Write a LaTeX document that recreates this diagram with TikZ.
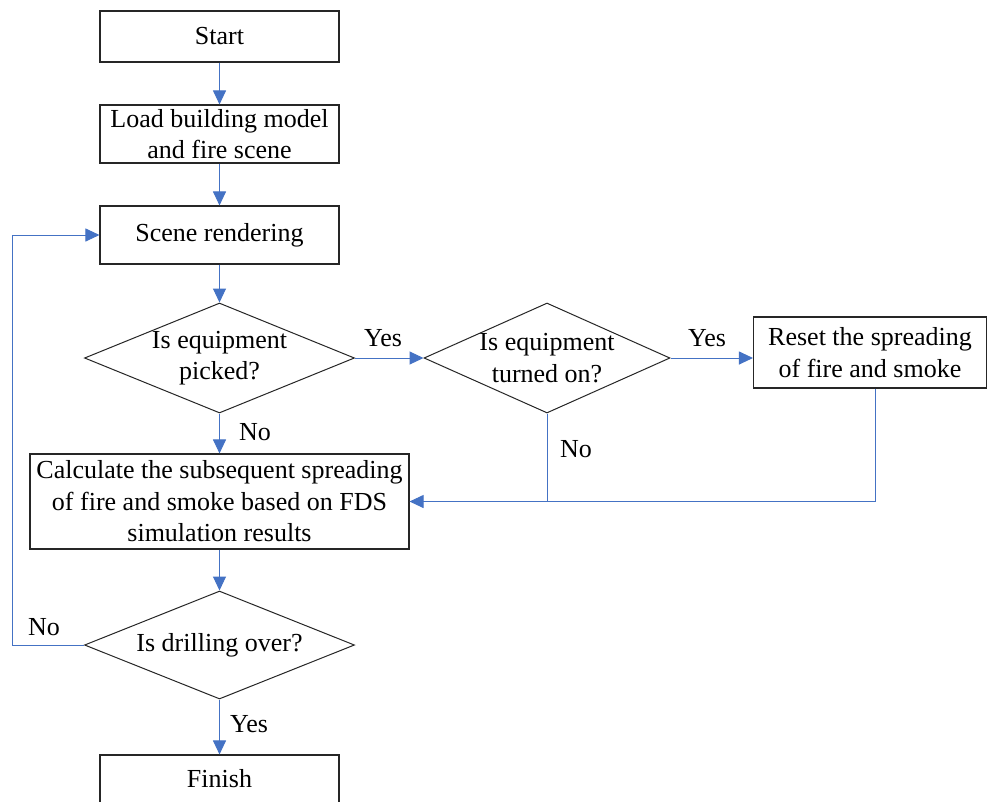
\documentclass[tikz,border=0pt]{standalone}
\usepackage{fontspec}
\setmainfont{Liberation Serif}
\usetikzlibrary{shapes.geometric,arrows.meta,calc}
\definecolor{flowblue}{HTML}{4472C4}
\tikzset{
  box/.style={draw=black!85, line width=1.1pt, rectangle, inner sep=0pt, align=center},
  dia/.style={draw=black!85, line width=1pt, diamond, inner sep=0pt, aspect=2},
  txt/.style={align=center, inner sep=0pt, font=\fontsize{26}{31.5}\selectfont},
  lbl/.style={inner sep=0pt, font=\fontsize{26}{31.5}\selectfont},
  conn/.style={draw=flowblue, line width=1pt},
  arr/.style={conn, -{Triangle[length=14pt,width=13pt]}},
}
\begin{document}
\begin{tikzpicture}[x=1pt,y=-1pt]
\useasboundingbox (0,0) rectangle (987,801);
\fill[white] (0,0) rectangle (987,801);
% boxes
\node[box, minimum width=239pt, minimum height=51pt, txt] (start) at (219.5,36.5) {Start};
\node[box, minimum width=239pt, minimum height=58pt, txt] (load) at (219.5,134) {Load building model\\and fire scene};
\node[box, minimum width=239pt, minimum height=58pt, txt] (scene) at (219.5,235) {Scene rendering};
\node[dia, minimum width=270pt, minimum height=110pt] (d1) at (219.5,358) {};
\node[txt] (d1t) at (219.5,358) {Is equipment\\picked?};
\node[dia, minimum width=246pt, minimum height=110pt] (d2) at (547,358) {};
\node[txt] (d2t) at (547,358) {Is equipment\\turned on?};
\node[box, minimum width=233pt, minimum height=71pt, txt] (reset) at (870,352.5) {Reset the spreading\\of fire and smoke};
\node[box, minimum width=379pt, minimum height=95pt, txt] (calc) at (219.5,501.5) {Calculate the subsequent spreading\\of fire and smoke based on FDS\\simulation results};
\node[dia, minimum width=270pt, minimum height=108pt] (d3) at (219.5,645) {};
\node[txt] (d3t) at (219.5,645) {Is drilling over?};
\node[box, minimum width=239pt, minimum height=52pt] (finish) at (219.5,781) {};
\node[txt] (finisht) at (219.5,779) {Finish};
% connectors
\draw[arr] (start) -- (load);
\draw[arr] (load) -- (scene);
\draw[arr] (scene) -- (d1);
\draw[arr] (d1.east) -- (d2.west);
\draw[arr] (d2.east) -- (d2.east -| reset.west);
\draw[arr] (d1.south) -- (calc.north);
\draw[conn] (d2.south) -- (d2.south |- calc.east);
\coordinate (rs) at ([xshift=5pt]reset.south);
\draw[arr] (rs) |- (calc.east);
\draw[arr] (calc.south) -- (d3.north);
\draw[arr] (d3.south) -- (finish.north);
\coordinate (lp) at (12,645);
\draw[arr] (d3.west) -- (lp) |- (scene.west);
% labels
\node[lbl] (y1) at (383,338) {Yes};
\node[lbl] (y2) at (707,338) {Yes};
\node[lbl] (n1) at (255,432) {No};
\node[lbl] (n2) at (576,449) {No};
\node[lbl] (n3) at (44,627) {No};
\node[lbl] (y3) at (249,724) {Yes};
\end{tikzpicture}
\end{document}
